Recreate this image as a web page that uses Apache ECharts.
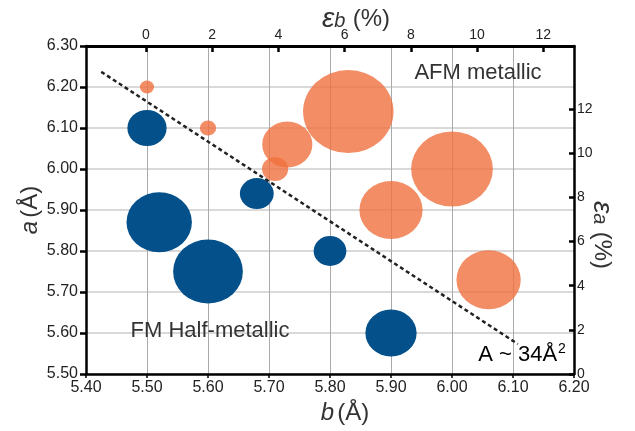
<!DOCTYPE html>
<html><head><meta charset="utf-8">
<script src="https://cdn.jsdelivr.net/npm/echarts@6/dist/echarts.min.js"></script>
<style>html,body{margin:0;padding:0;background:#fff}#c{width:635px;height:431px}</style>
</head><body><div id="c"></div>
<script>
// AFM metallic bubbles: b (Å), a (Å), bubble magnitude
const afmB = [5.50, 5.60, 5.73, 5.71, 5.83, 6.00, 5.90, 6.06];
const afmA = [6.20, 6.10, 6.06, 6.00, 6.14, 6.00, 5.90, 5.73];
const afmSize = [13, 15, 46, 24, 83, 75, 58, 59];
// FM half-metallic bubbles
const fmB = [5.50, 5.52, 5.60, 5.68, 5.80, 5.90];
const fmA = [6.10, 5.87, 5.75, 5.94, 5.80, 5.60];
const fmSize = [36, 60, 64, 31, 30, 47];
// A ~ 34 Å² guide line endpoints
const lineB = [5.425, 6.108];
const lineA = [6.237, 5.573];
// axis ranges / ticks
const bRange = [5.40, 6.20];
const aRange = [5.50, 6.30];
const epsBRange = [-1.81, 12.93];
const epsARange = [0, 14.86];
const epsTicks = [0, 2, 4, 6, 8, 10, 12];

const FONT = 'Liberation Sans';
const chart = echarts.init(document.getElementById('c'), null, {renderer: 'canvas'});
const zip3 = (xs, ys, ss) => xs.map((x, i) => [x, ys[i], ss[i]]);
const sizeFn = v => [v[2] * 1.09, v[2]];

const option = {
  backgroundColor: '#fff',
  animation: false,
  textStyle: {fontFamily: FONT},
  grid: {left: 86, right: 61, top: 46, bottom: 57, containLabel: false, outerBoundsMode: 'none'},
  xAxis: [{
    type: 'value', position: 'bottom', min: bRange[0], max: bRange[1], interval: 0.1,
    axisLine: {onZero: false, lineStyle: {color: '#000', width: 2.5}},
    axisTick: {inside: false, length: 4, lineStyle: {color: '#000', width: 1.5}},
    axisLabel: {formatter: v => v.toFixed(2), fontSize: 16, color: '#222', margin: 6, fontFamily: FONT},
    splitLine: {show: true, lineStyle: {color: '#aaa', width: 1}},
    name: '{i|b} {n|(Å)}', nameLocation: 'middle', nameGap: 27, nameMoveOverlap: false,
    nameTextStyle: {padding: [0, 0, 0, 30], rich: {
      i: {fontStyle: 'italic', fontSize: 24, color: '#333', fontFamily: FONT},
      n: {fontSize: 24, color: '#333', fontFamily: FONT}}}
  }, {
    type: 'value', position: 'top', min: epsBRange[0], max: epsBRange[1],
    axisLine: {onZero: false, lineStyle: {color: '#000', width: 3}},
    axisTick: {inside: true, length: 6, customValues: epsTicks, lineStyle: {color: '#000', width: 2.5}},
    axisLabel: {customValues: epsTicks, fontSize: 14, color: '#222', margin: 4, fontFamily: FONT},
    splitLine: {show: false},
    name: '{e|ε}{s|b} {n|(%)}', nameLocation: 'middle', nameGap: 13, nameMoveOverlap: false,
    nameTextStyle: {padding: [0, 0, 0, 52], rich: {
      e: {fontStyle: 'italic', fontSize: 28, color: '#333', fontFamily: FONT},
      s: {fontStyle: 'italic', fontSize: 20, color: '#333', fontFamily: FONT, padding: [4, 4, 0, 0]},
      n: {fontSize: 24, color: '#333', fontFamily: FONT}}}
  }],
  yAxis: [{
    type: 'value', position: 'left', min: aRange[0], max: aRange[1], interval: 0.1,
    axisLine: {onZero: false, lineStyle: {color: '#000', width: 2.5}},
    axisTick: {inside: false, length: 6, lineStyle: {color: '#000', width: 2.5}},
    axisLabel: {formatter: v => v.toFixed(2), fontSize: 16, color: '#222', margin: 8, fontFamily: FONT},
    splitLine: {show: true, lineStyle: {color: '#ccc', width: 1.5}},
    name: '{i|a} {n|(Å)}', nameLocation: 'middle', nameGap: 44, nameRotate: 90, nameMoveOverlap: false,
    nameTextStyle: {rich: {
      i: {fontStyle: 'italic', fontSize: 24, color: '#333', fontFamily: FONT},
      n: {fontSize: 24, color: '#333', fontFamily: FONT}}}
  }, {
    type: 'value', position: 'right', min: epsARange[0], max: epsARange[1],
    axisLine: {onZero: false, lineStyle: {color: '#000', width: 2.5}},
    axisTick: {inside: true, length: 5, customValues: epsTicks, lineStyle: {color: '#000', width: 2.5}},
    axisLabel: {customValues: epsTicks, fontSize: 14, color: '#222', margin: 3, fontFamily: FONT},
    splitLine: {show: false},
    name: '{e|ε}{s|a} {n|(%)}', nameLocation: 'middle', nameGap: 14, nameRotate: -90, nameMoveOverlap: false,
    nameTextStyle: {padding: [0, 0, 0, 50], rich: {
      e: {fontStyle: 'italic', fontSize: 28, color: '#333', fontFamily: FONT},
      s: {fontStyle: 'italic', fontSize: 20, color: '#333', fontFamily: FONT, padding: [4, 4, 0, 0]},
      n: {fontSize: 24, color: '#333', fontFamily: FONT}}}
  }],
  series: [{
    name: 'AFM metallic', type: 'scatter', xAxisIndex: 0, yAxisIndex: 0,
    data: zip3(afmB, afmA, afmSize), symbolSize: sizeFn,
    itemStyle: {color: '#F0703F', opacity: 0.8}, z: 2
  }, {
    name: 'FM Half-metallic', type: 'scatter', xAxisIndex: 0, yAxisIndex: 0,
    data: zip3(fmB, fmA, fmSize), symbolSize: sizeFn,
    itemStyle: {color: '#03508A', opacity: 1}, z: 3
  }, {
    name: 'A ~ 34', type: 'line', xAxisIndex: 0, yAxisIndex: 0,
    data: lineB.map((b, i) => [b, lineA[i]]), symbol: 'none',
    lineStyle: {color: '#222', width: 2.5, type: [4, 3]}, z: 5
  }],
  graphic: [
    {type: 'text', x: 478, y: 73, z: 10, style: {text: 'AFM metallic', fontSize: 22, fontFamily: FONT, fill: '#333', align: 'center', verticalAlign: 'middle'}},
    {type: 'text', x: 210, y: 331, z: 10, style: {text: 'FM Half-metallic', fontSize: 22, fontFamily: FONT, fill: '#333', align: 'center', verticalAlign: 'middle'}},
    {type: 'text', x: 522, y: 355, z: 10, style: {text: '{n|A ~ 34Å}{s|2}', fontFamily: FONT, align: 'center', verticalAlign: 'middle',
      rich: {n: {fontSize: 22, color: '#333', fontFamily: FONT}, s: {fontSize: 14, color: '#333', fontFamily: FONT, padding: [0, 0, 12, 1]}}}}
  ]
};
chart.setOption(option);
</script>
</body></html>
